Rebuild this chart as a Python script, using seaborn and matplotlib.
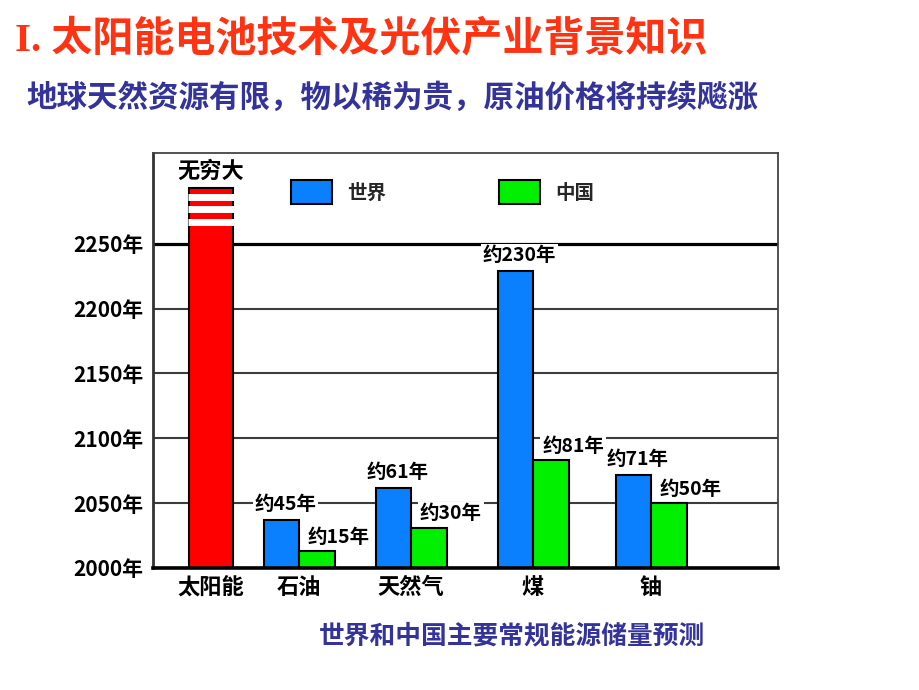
import matplotlib
matplotlib.use('Agg')
import matplotlib.pyplot as plt
import seaborn as sns
import pandas as pd

# 数据（柱高从图上读出，标签照原图文字）
resources = ['石油', '天然气', '煤', '铀']
regions = ['世界', '中国']
world_years = [37, 62, 229, 72]
china_years = [13, 31, 83, 50]
world_labels = ['约45年', '约61年', '约230年', '约71年']
china_labels = ['约15年', '约30年', '约81年', '约50年']
sun_name = '太阳能'
sun_label = '无穷大'
sun_bar_years = 293      # "无穷大"柱子画到的高度
base_year = 2000
year_ticks = [2000, 2050, 2100, 2150, 2200, 2250]

# 版面
sun_pos = 0.0
x_pos = [0.746, 1.695, 2.729, 3.729]
stripe_years = [286.4, 276.9, 267.0]

df = pd.DataFrame({
    'pos': x_pos * 2,
    'region': [regions[0]] * len(resources) + [regions[1]] * len(resources),
    'year': [base_year + v for v in world_years + china_years],
})

sns.set_theme(style='white')
plt.rcParams['font.family'] = ['Noto Sans CJK SC', 'DejaVu Sans']
plt.rcParams['axes.unicode_minus'] = False

fig = plt.figure(figsize=(9.2, 6.9), dpi=100)
fig.patch.set_facecolor('white')
ax = fig.add_axes([153 / 920, 1 - 568 / 690, 625 / 920, 415 / 690])

sns.barplot(data=df, x='pos', y='year', hue='region', hue_order=regions,
            palette={'世界': '#0a80ff', '中国': '#00f000'}, native_scale=True,
            width=0.634, errorbar=None, saturation=1, edgecolor='black',
            linewidth=1.5, ax=ax, zorder=2)

# 数值标签
for cont, labels, dx, dy in zip(ax.containers[:2], [world_labels, china_labels], [3, 16], [11, 10]):
    for p, txt in zip(cont.patches, labels):
        ax.annotate(txt, (p.get_x() + p.get_width() / 2, p.get_height()),
                    xytext=(dx, dy), textcoords='offset points', ha='center', va='center',
                    fontsize=14, fontweight='bold', color='black', zorder=5,
                    bbox=dict(boxstyle='square,pad=0.1', fc='white', ec='none'))

# 太阳能
sns.barplot(x=[sun_pos], y=[base_year + sun_bar_years], native_scale=True, width=0.373,
            color='#ff0000', saturation=1, edgecolor='black', linewidth=1.5,
            errorbar=None, ax=ax, zorder=2)
sun_bar = ax.containers[-1].patches[0]
for s in stripe_years:
    ax.hlines(base_year + s, sun_bar.get_x() - 0.01, sun_bar.get_x() + sun_bar.get_width() + 0.01,
              color='white', lw=5, zorder=3)
ax.annotate(sun_label, (sun_bar.get_x() + sun_bar.get_width() / 2, sun_bar.get_height()),
            xytext=(0, 12), textcoords='offset points', ha='center', va='center',
            fontsize=16, fontweight='bold', color='black')

ax.set_xlim(-0.4915, 4.805)
ax.set_ylim(2000, 2320)
ax.set_yticks(year_ticks, [f'{y}年' for y in year_ticks], fontsize=15, fontweight='bold')
ax.set_xticks([sun_pos] + x_pos, [sun_name] + resources, fontsize=16, fontweight='bold')
ax.tick_params(axis='y', length=0, pad=7, colors='black')
ax.tick_params(axis='x', length=0, pad=6, colors='black')
ax.set_xlabel('')
ax.set_ylabel('')

ax.yaxis.grid(True, color='#3c3c3c', lw=1.5)
ax.xaxis.grid(False)
ax.set_axisbelow(True)
ax.get_ygridlines()[-1].set(color='black', lw=2.3)

for side, lw, col in [('left', 2, '#333333'), ('bottom', 2.6, 'black'),
                      ('top', 1.3, '#444444'), ('right', 1.3, '#444444')]:
    ax.spines[side].set_visible(True)
    ax.spines[side].set_linewidth(lw)
    ax.spines[side].set_color(col)

sns.move_legend(ax, 'upper left', bbox_to_anchor=(0.221, 0.935), ncol=2, frameon=False,
                title=None, handlelength=2.1, handleheight=1.55, handletextpad=0.8,
                columnspacing=5.8, borderaxespad=0, borderpad=0,
                prop={'size': 14, 'weight': 'bold'})
for h in ax.get_legend().legend_handles:
    h.set_edgecolor('black')
    h.set_linewidth(1.5)

fig.text(15 / 920, 1 - 40 / 690, 'I. 太阳能电池技术及光伏产业背景知识',
         family=['Liberation Serif', 'Noto Sans CJK SC'], fontsize=29.5,
         fontweight='bold', color='#ff3311', va='center', ha='left')
fig.text(26 / 920, 1 - 98 / 690, '地球天然资源有限，物以稀为贵，原油价格将持续飚涨',
         fontsize=22, fontweight='bold', color='#333399', va='center', ha='left')
fig.text(512 / 920, 1 - 636 / 690, '世界和中国主要常规能源储量预测',
         fontsize=18.5, fontweight='bold', color='#333399', va='center', ha='center')

fig.savefig('out.png', dpi=100, facecolor='white')
